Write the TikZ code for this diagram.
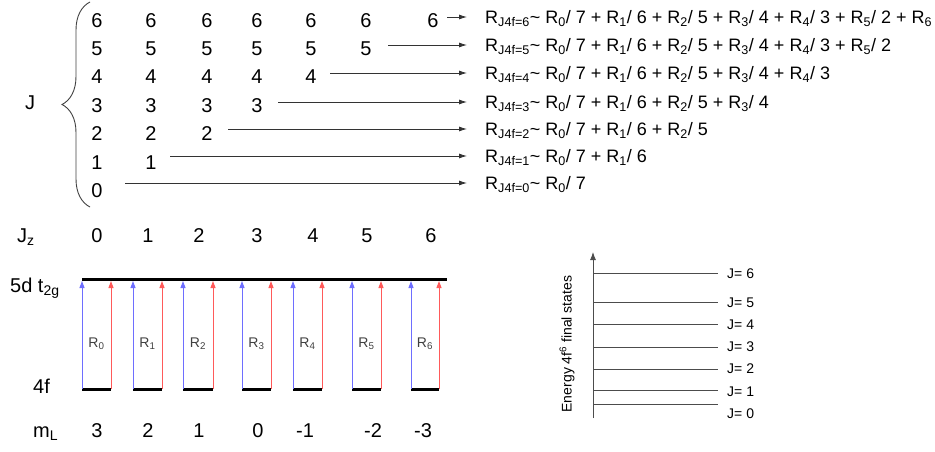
\documentclass[tikz,border=0pt]{standalone}
\usepackage{fontspec}
\setmainfont{Liberation Sans}
\usetikzlibrary{arrows.meta,decorations.pathreplacing}
\newcommand\Rs[1]{R\textsubscript{#1}}
\definecolor{arrblue}{RGB}{110,110,255}
\definecolor{arrred}{RGB}{255,90,90}
\tikzset{
  big/.style={font=\fontsize{20}{24}\selectfont, inner sep=0pt},
  small/.style={font=\fontsize{14}{17}\selectfont, inner sep=0pt},
  formula/.style={font=\fontsize{18}{22}\selectfont, inner sep=0pt, anchor=west, text height=12.9pt, text depth=0pt},
  feed/.style={draw=black!80, line width=0.8pt, -{Latex[length=8pt,width=5pt]}, shorten >=18pt},
  level/.style={draw=black, line width=3pt},
  upb/.style={draw=arrblue, line width=1pt, -{Triangle[length=7pt,width=5pt]}},
  upr/.style={draw=arrred, line width=1pt, -{Triangle[length=7pt,width=5pt]}},
  elev/.style={draw=black!70, line width=0.9pt},
}
\begin{document}
\begin{tikzpicture}[x=1pt,y=-1pt]
\useasboundingbox (0,0) rectangle (935,452);
% ---- J block ----
\node[big, anchor=base] (J) at (30,110) {J};
\draw[black!75, line width=0.9pt, decorate, decoration={brace, amplitude=28pt}] (90,207) -- (90,2);
\foreach \k/\y/\fy/\sx in {0/197/183/125, 1/169/156/170, 2/140/129/228, 3/112/102/278, 4/84/73/330, 5/56/45/388, 6/28/17/447}{
  \foreach \c/\x in {0/97,1/151,2/207,3/257,4/311,5/366,6/433}{
    \ifnum\c>\k\else
      \node[big, anchor=base] (d\k-\c) at (\x,\y) {\k};
    \fi
  }
  \coordinate (s\k) at (\sx,\fy);
}
\node[formula] (f6) at (485,17) {\Rs{J4f=6}\textasciitilde\ \Rs{0}/ 7 + \Rs{1}/ 6 + \Rs{2}/ 5 + \Rs{3}/ 4 + \Rs{4}/ 3 + \Rs{5}/ 2 + \Rs{6}};
\node[formula] (f5) at (485,45) {\Rs{J4f=5}\textasciitilde\ \Rs{0}/ 7 + \Rs{1}/ 6 + \Rs{2}/ 5 + \Rs{3}/ 4 + \Rs{4}/ 3 + \Rs{5}/ 2};
\node[formula] (f4) at (485,73) {\Rs{J4f=4}\textasciitilde\ \Rs{0}/ 7 + \Rs{1}/ 6 + \Rs{2}/ 5 + \Rs{3}/ 4 + \Rs{4}/ 3};
\node[formula] (f3) at (485,102) {\Rs{J4f=3}\textasciitilde\ \Rs{0}/ 7 + \Rs{1}/ 6 + \Rs{2}/ 5 + \Rs{3}/ 4};
\node[formula] (f2) at (485,129) {\Rs{J4f=2}\textasciitilde\ \Rs{0}/ 7 + \Rs{1}/ 6 + \Rs{2}/ 5};
\node[formula] (f1) at (485,156) {\Rs{J4f=1}\textasciitilde\ \Rs{0}/ 7 + \Rs{1}/ 6};
\node[formula] (f0) at (485,183) {\Rs{J4f=0}\textasciitilde\ \Rs{0}/ 7};
\foreach \k in {0,...,6}{\draw[feed] (s\k) -- (f\k.west);}
% ---- Jz row ----
\node[big, anchor=base west] (Jz) at (17,242) {J\textsubscript{z}};
\foreach \i/\x in {0/97,1/148,2/199,3/257,4/313,5/367,6/431}{
  \node[big, anchor=base] (jz\i) at (\x,242) {\i};
}
% ---- levels ----
\node[big, anchor=base west] (d5) at (10,292) {5d t\textsubscript{2g}};
\node[big, anchor=base west] (f4f) at (33,393) {4f};
\draw[level] (82,279) coordinate (topL) -- (447,279) coordinate (topR);
\foreach \i/\a/\b in {0/82/111,1/133/162,2/183/213,3/242/271,4/293/322,5/352/381,6/411/439}{
  \coordinate (bl\i) at (\a,389);
  \coordinate (br\i) at (\b,389);
  \coordinate (tl\i) at (\a,281);
  \coordinate (tr\i) at (\b,281);
  \draw[level] (bl\i) -- (br\i);
  \draw[upb] (bl\i) -- (tl\i);
  \draw[upr] (br\i) -- (tr\i);
  \node[small, text=black!75, anchor=base] (R\i) at ({(\a+\b)/2},347) {R\textsubscript{\i}};
}
% ---- mL row ----
\node[big, anchor=base west] (mL) at (33,437) {m\textsubscript{L}};
\foreach \i/\x/\t in {0/97/3,1/148/2,2/199/1,3/258/0,4/305/-1,5/373/-2,6/423/-3}{
  \node[big, anchor=base] (ml\i) at (\x,437) {\t};
}
% ---- energy diagram ----
\coordinate (ax0) at (593,418);
\coordinate (ax1) at (593,252);
\draw[elev, -{Latex[length=8pt,width=6pt]}] (ax0) -- (ax1);
\node[small, rotate=90] (elab) at (567,344) {Energy 4f\textsuperscript{6} final states};
\foreach \j/\y/\ly in {6/273/273,5/302/302,4/324/324,3/347/346,2/369/368,1/390/391,0/404/413}{
  \coordinate (el\j) at (593,\y);
  \coordinate (er\j) at (718,\y);
  \draw[elev] (el\j) -- (er\j);
  \node[small, anchor=west, text height=10pt, text depth=0pt] (jl\j) at (727,\ly) {J= \j};
}
\end{tikzpicture}
\end{document}
